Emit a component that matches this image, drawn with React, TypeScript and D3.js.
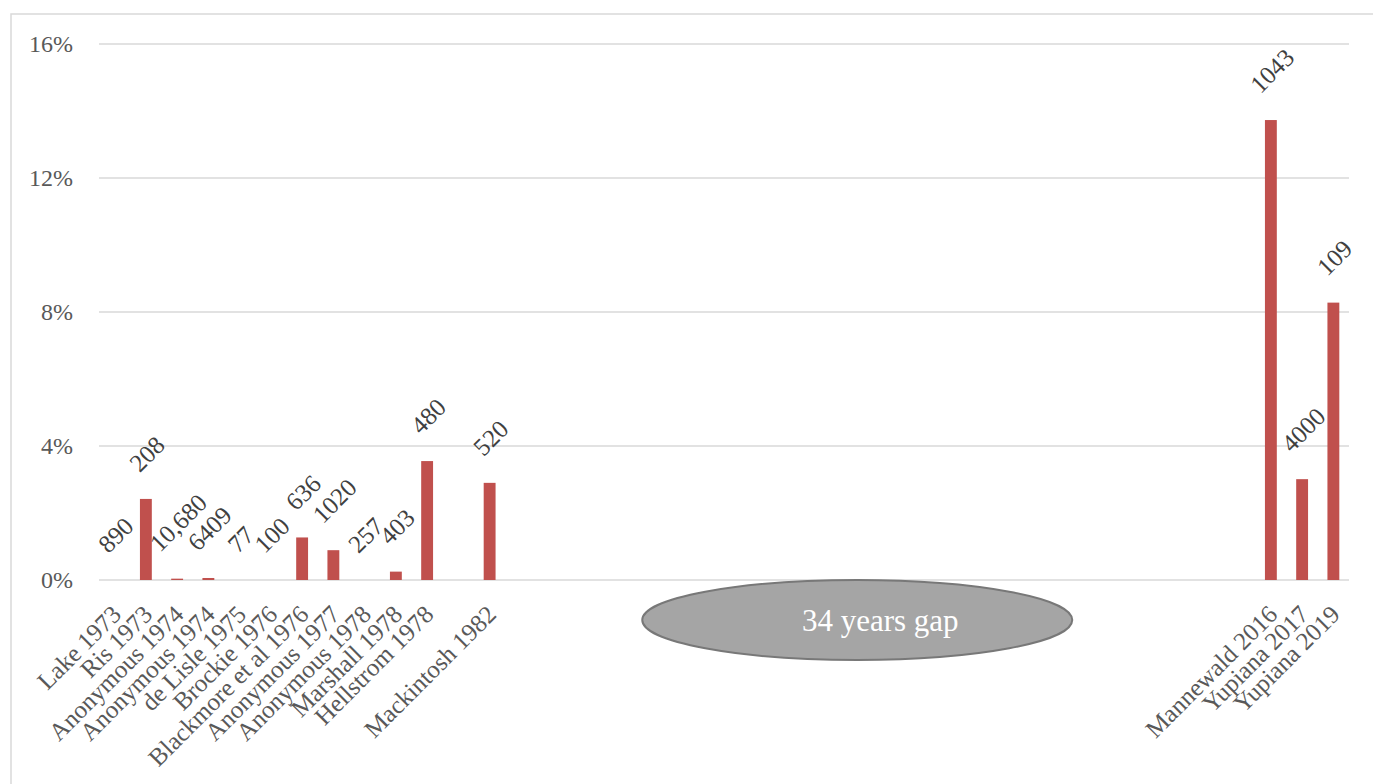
import { scaleBand, scaleLinear } from "d3";

// Studies on the x axis; empty strings are the unused slots of the time gap
const categories = [
  "Lake 1973", "Ris 1973", "Anonymous 1974", "Anonymous 1974", "de Lisle 1975",
  "Brockie 1976", "Blackmore et al 1976", "Anonymous 1977", "Anonymous 1978",
  "Marshall 1978", "Hellstrom 1978", "", "Mackintosh 1982",
  "", "", "", "", "", "", "", "", "", "", "", "",
  "", "", "", "", "", "", "", "", "", "", "", "",
  "Mannewald 2016", "Yupiana 2017", "Yupiana 2019",
];

// Prevalence (%) per study
const prevalence = [
  0, 2.42, 0.04, 0.06, 0,
  0, 1.27, 0.89, 0,
  0.25, 3.55, null, 2.9,
  null, null, null, null, null, null, null, null, null, null, null, null,
  null, null, null, null, null, null, null, null, null, null, null, null,
  13.73, 3.01, 8.28,
];

// Sample size shown above each bar
const sampleSizes = [
  "890", "208", "10,680", "6409", "77",
  "100", "636", "1020", "257",
  "403", "480", "", "520",
  "", "", "", "", "", "", "", "", "", "", "", "",
  "", "", "", "", "", "", "", "", "", "", "", "",
  "1043", "4000", "109",
];

const yTicks = [0, 4, 8, 12, 16];
const gapLabel = "34 years gap";

const W = 1373;
const H = 784;
const FONT = "'Liberation Serif', 'Times New Roman', serif";

export default function App() {
  const x = scaleBand<number>()
    .domain(categories.map((_, i) => i))
    .range([99, 1349])
    .paddingInner(0.62)
    .paddingOuter(0.31);

  const y = scaleLinear().domain([0, 16]).range([580, 44]);

  const cx = (i: number) => (x(i) ?? 0) + x.bandwidth() / 2;

  // rough width of a digit string in Liberation Serif
  const labelSize = 25;
  const textWidth = (s: string) =>
    s.split("").reduce((acc, ch) => acc + (ch === "," ? 0.25 : 0.5), 0) * labelSize;

  const gapX = (cx(12) + cx(37)) / 2;

  return (
    <svg
      width={W}
      height={H}
      style={{ position: "absolute", left: 0, top: 0, background: "#fff" }}
      fontFamily={FONT}
    >
      {/* chart border */}
      <rect x={11} y={14} width={W} height={H} fill="none" stroke="#d9d9d9" strokeWidth={1.5} />

      {/* gridlines + y labels */}
      {yTicks.map((t) => (
        <g key={t}>
          <line x1={99} x2={1349} y1={y(t)} y2={y(t)} stroke="#d9d9d9" strokeWidth={1.5} />
          <text x={73} y={y(t)} dy="0.35em" textAnchor="end" fontSize={24} fill="#595959">
            {t}%
          </text>
        </g>
      ))}

      {/* bars */}
      {prevalence.map((v, i) =>
        v == null ? null : (
          <rect
            key={i}
            x={x(i)}
            y={y(v)}
            width={x.bandwidth()}
            height={y(0) - y(v)}
            fill="#c0504d"
          />
        )
      )}

      {/* sample size labels, rotated */}
      {sampleSizes.map((s, i) => {
        const v = prevalence[i];
        if (!s || v == null) return null;
        const boxH = (textWidth(s) + labelSize * 0.66) * 0.7071;
        const cy = y(v) - 26 - boxH / 2;
        return (
          <text
            key={i}
            transform={`translate(${cx(i) + 1},${cy}) rotate(-45)`}
            dy="0.35em"
            textAnchor="middle"
            fontSize={labelSize}
            fill="#404040"
          >
            {s}
          </text>
        );
      })}

      {/* category labels */}
      {categories.map((c, i) =>
        c ? (
          <text
            key={i}
            transform={`translate(${cx(i) + 8},${y(0) + 36}) rotate(-45)`}
            textAnchor="end"
            fontSize={25}
            fill="#595959"
          >
            {c}
          </text>
        ) : null
      )}

      {/* gap annotation */}
      <ellipse
        cx={gapX - 23}
        cy={y(0) + 40}
        rx={215}
        ry={40}
        fill="#a5a5a5"
        stroke="#787878"
        strokeWidth={2}
      />
      <text x={gapX} y={y(0) + 40} dy="0.35em" textAnchor="middle" fontSize={31} fill="#fff">
        {gapLabel}
      </text>
    </svg>
  );
}
